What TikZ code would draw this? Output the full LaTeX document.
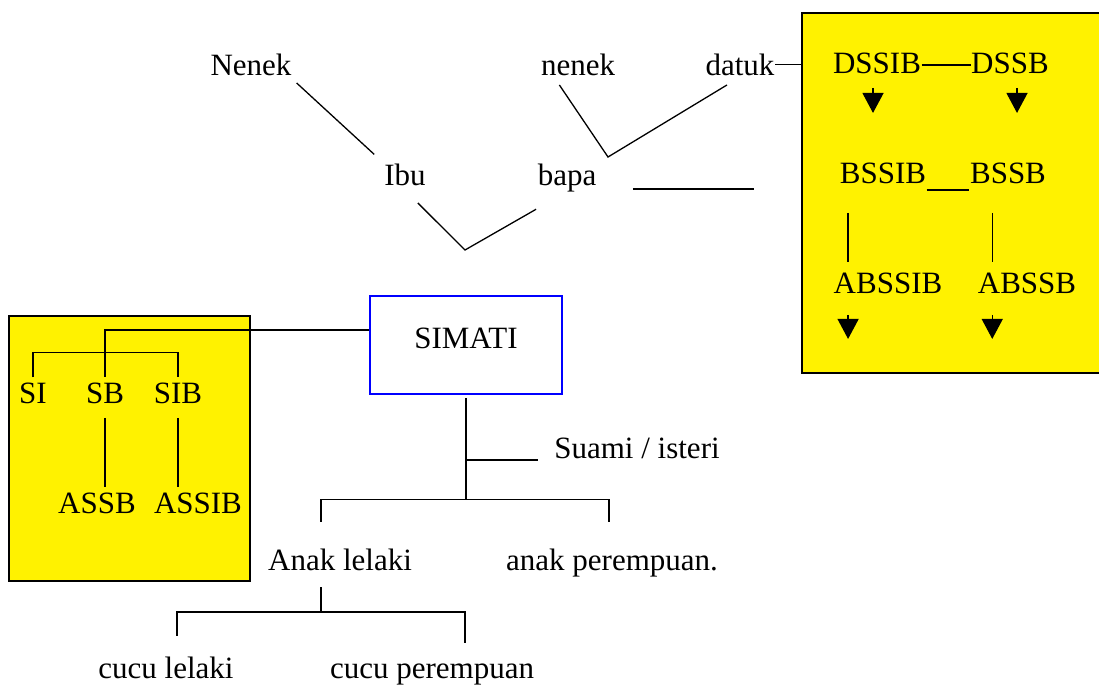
\documentclass[tikz,border=0pt]{standalone}
\usepackage{fontspec}
\setmainfont{Liberation Serif}
\usetikzlibrary{arrows.meta}

\begin{document}
\begin{tikzpicture}[x=1pt,y=-1pt,line width=1.3pt,
  word/.style={inner sep=0pt,anchor=base,font=\fontsize{31}{36}\selectfont},
  ybox/.style={draw=black,fill=yellow,line width=1.5pt,anchor=north west,inner sep=0pt},
  down/.style={-{Triangle[width=21pt,length=20pt]}}]
  \useasboundingbox (0,0) rectangle (1099,688);

  \node[ybox,minimum width=302pt,minimum height=360pt] (rbox) at (801,12) {};
  \node[ybox,minimum width=241pt,minimum height=265pt] (lbox) at (8,315) {};

  \node[word] (Nenek) at (251,75)  {Nenek};
  \node[word] (nenek) at (578,75)  {nenek};
  \node[word] (datuk) at (740,75)  {datuk};
  \node[word] (Ibu)   at (405,185) {Ibu};
  \node[word] (bapa)  at (567,185) {bapa};
  \node[word,draw=blue,line width=1.5pt,minimum width=192pt,
        text height=42pt,text depth=36pt,inner sep=10pt] (simati) at (466,348) {SIMATI};
  \node[word] (suami) at (637,458) {Suami / isteri};
  \node[word] (anak)  at (340,570) {Anak lelaki};
  \node[word] (anakp) at (612,570) {anak perempuan.};
  \node[word] (cucul) at (166,678) {cucu lelaki};
  \node[word] (cucup) at (432,678) {cucu perempuan};

  \node[word] (DSSIB)  at (877,73)  {DSSIB};
  \node[word] (DSSB)   at (1010,73) {DSSB};
  \node[word] (BSSIB)  at (883,183) {BSSIB};
  \node[word] (BSSB)   at (1008,183) {BSSB};
  \node[word] (ABSSIB) at (888,293) {ABSSIB};
  \node[word] (ABSSB)  at (1027,293) {ABSSB};

  \node[word] (SI)    at (33,403)  {SI};
  \node[word] (SB)    at (105,403) {SB};
  \node[word] (SIB)   at (178,403) {SIB};
  \node[word] (ASSB)  at (97,513)  {ASSB};
  \node[word] (ASSIB) at (198,513) {ASSIB};

  \coordinate (nb) at (608,157);
  \coordinate (pv) at (465,250);
  \draw ([xshift=4.5pt,yshift=-7pt]Nenek.south east) -- ([xshift=-9.5pt,yshift=8.5pt]Ibu.north west);
  \draw ([xshift=19pt,yshift=-9pt]nenek.south west) -- (nb) -- ([xshift=-13pt,yshift=-9pt]datuk.south);
  \draw (datuk.east) -- (rbox.west |- datuk.east);
  \draw ([xshift=-8.5pt,yshift=-17pt]Ibu.south east) -- (pv) -- ([xshift=-1pt,yshift=-17pt]bapa.south west);
  \draw ([xshift=36pt,yshift=-4pt]bapa.base east) -- ++(121,0);

  \draw ([yshift=-2pt]DSSIB.east) -- ([yshift=-2pt]DSSB.west);
  \draw[down] ([xshift=-4pt,yshift=-14pt]DSSIB.south) -- ++(0,25);
  \draw[down] ([xshift=7pt,yshift=-14pt]DSSB.south) -- ++(0,25);
  \draw ([yshift=-7pt]BSSIB.base east) -- ([yshift=-7pt]BSSB.base west);
  \foreach \n in {ABSSIB,ABSSB} {
    \draw ([xshift=15pt,yshift=59pt]\n.north west) -- ++(0,49);
    \draw[down] ([xshift=15pt,yshift=-21pt]\n.south west) -- ++(0,24);
  }

  \draw ([yshift=15pt]simati.west) -| ([yshift=4.5pt]SB.north);
  \draw ([yshift=4.5pt]SI.north) -- ++(0,-25) -| ([yshift=4.5pt]SIB.north);
  \draw ([yshift=-14pt]SB.south) -- ([yshift=4.5pt]SB.south |- ASSB.north);
  \draw ([yshift=-14pt]SIB.south) -- ([yshift=4.5pt]SIB.south |- ASSIB.north);

  \coordinate (sj) at ([yshift=-105pt]simati.south);
  \draw ([yshift=-3pt]simati.south) -- (sj);
  \draw ([xshift=-16pt,yshift=-2pt]suami.base west) -- ++(-72,0);
  \draw ([xshift=-19pt,yshift=26pt]anak.north) |- (sj) -| ([xshift=-3pt,yshift=26pt]anakp.north);
  \coordinate (gj) at ([xshift=-19pt,yshift=-17pt]anak.base);
  \draw (gj) -- ++(0,25) coordinate (gk);
  \draw ([xshift=11pt,yshift=20pt]cucul.north) |- (gk) -| ([xshift=33pt,yshift=20pt]cucup.north);
\end{tikzpicture}
\end{document}
